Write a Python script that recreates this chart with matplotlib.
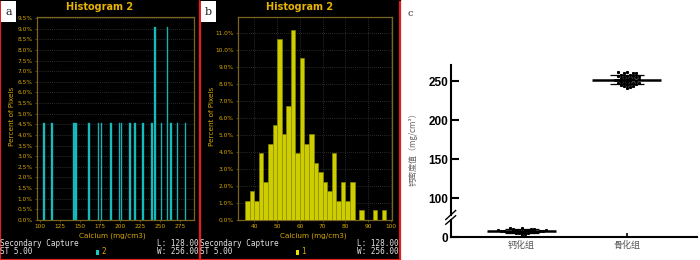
import numpy as np
import matplotlib
matplotlib.use("Agg")
import matplotlib.pyplot as plt

# ---------------- data ----------------
# panel a : histogram (Calcium mg/cm3 -> percent of pixels)
a_pos = [105, 115, 142.5, 145, 161, 173, 177, 189, 199.5, 202, 212.5, 218.5,
         228.5, 240, 244, 252, 259.5, 264, 272, 282]
a_pct = [4.55, 4.55, 4.55, 4.55, 4.55, 4.55, 4.55, 4.55, 4.55, 4.55, 4.55, 4.55,
         4.55, 4.55, 9.09, 4.55, 9.09, 4.55, 4.55, 4.55]
a_xticks = [100, 125, 150, 175, 200, 225, 250, 275]
a_yticks = [0.0, 0.5, 1.0, 1.5, 2.0, 2.5, 3.0, 3.5, 4.0, 4.5, 5.0, 5.5, 6.0,
            6.5, 7.0, 7.5, 8.0, 8.5, 9.0, 9.5]

# panel b : histogram
b_left = [36, 38, 40, 42, 44, 46, 48, 50, 52, 54, 56, 58, 60, 62, 64, 66, 68,
          70, 72, 74, 76, 78, 80, 82, 84, 86, 88, 90, 92, 94, 96]
b_pct = [1.12, 1.68, 1.12, 3.91, 2.23, 4.47, 5.59, 10.61, 5.03, 6.70, 11.17,
         3.91, 9.50, 4.47, 5.03, 3.35, 2.79, 2.23, 1.68, 3.91, 1.12, 2.23, 1.12,
         2.23, 0.0, 0.56, 0.0, 0.0, 0.56, 0.0, 0.56]
b_xticks = [40, 50, 60, 70, 80, 90, 100]
b_yticks = [0, 1, 2, 3, 4, 5, 6, 7, 8, 9, 10, 11]

# panel c : scatter with mean +/- SD
c_groups = ["钙化组", "骨化组"]
c_calc = [11.5, 11, 10.5, 10, 10, 9.5, 9, 9, 8.5, 8.5, 8, 8, 8, 7.5, 7.5, 7,
          7, 7, 6.5, 6.5, 6, 6, 5.5, 5, 4.5, 4, 3]
c_bone = [261, 261, 260, 260, 260, 258, 258, 257, 257, 257, 256, 255, 255, 254,
          254, 253, 252, 252, 251, 251, 251, 250, 250, 249, 249, 248, 248, 247,
          247, 246, 246, 245, 245, 244, 243, 242, 241]
c_high_ticks = [100, 150, 200, 250]
c_low_ticks = [0]

# ---------------- helpers ----------------
W, H = 700, 260
fig = plt.figure(figsize=(7, 2.6), dpi=100)
fig.patch.set_facecolor("white")


def fbox(l, t, r, b):
    return [l / W, 1 - b / H, (r - l) / W, (b - t) / H]


def ftxt(x, y, s, **kw):
    fig.text(x / W, 1 - y / H, s, **kw)


GOLD = "#d8a800"
SPINE = "#7a6420"
GRID = "#3a3a3a"
RED = "#e02020"


def dicom_panel(x0, label, color, legend_label):
    bg = fig.add_axes(fbox(x0, 0, x0 + 200, 260))
    bg.set_facecolor("black")
    bg.set_xticks([]); bg.set_yticks([])
    for s in ["left", "right", "bottom"]:
        bg.spines[s].set_color(RED)
        bg.spines[s].set_linewidth(1.6)
    bg.spines["top"].set_color("black")
    bg.set_zorder(0)
    fig.patches.append(plt.Rectangle(((x0 + 1) / W, 1 - 22 / H), 15 / W, 21 / H,
                                     transform=fig.transFigure, facecolor="white",
                                     edgecolor="none", zorder=5))
    ftxt(x0 + 8.5, 12, label, ha="center", va="center", fontsize=8,
         family="DejaVu Serif", color="#222222", zorder=6)
    ftxt(x0 + 100, 7, "Histogram 2", ha="center", va="center", fontsize=7,
         fontweight="bold", color="#e8b400")
    ftxt(x0 + 0, 244, "Secondary Capture", ha="left", va="center", fontsize=5.5,
         family="DejaVu Sans Mono", color="#e6e6e6")
    ftxt(x0 + 0, 252, "ST 5.00", ha="left", va="center", fontsize=5.5,
         family="DejaVu Sans Mono", color="#e6e6e6")
    ftxt(x0 + 199, 244, "L: 128.00", ha="right", va="center", fontsize=5.5,
         family="DejaVu Sans Mono", color="#e6e6e6")
    ftxt(x0 + 199, 252, "W: 256.00", ha="right", va="center", fontsize=5.5,
         family="DejaVu Sans Mono", color="#e6e6e6")
    fig.patches.append(plt.Rectangle(((x0 + 95.5) / W, 1 - 254.5 / H), 3 / W, 5 / H,
                                     transform=fig.transFigure, facecolor=color,
                                     edgecolor="none", zorder=5))
    ftxt(x0 + 101, 251.5, legend_label, ha="left", va="center", fontsize=5.5,
         family="DejaVu Sans Mono", color=GOLD)


def style_hist(ax):
    ax.set_facecolor("black")
    for s in ax.spines.values():
        s.set_color(SPINE)
        s.set_linewidth(0.9)
    ax.tick_params(colors=SPINE, labelcolor=GOLD, labelsize=4.2, length=1.5,
                   width=0.5, pad=1.5)
    ax.set_zorder(2)


# ---------------- panel a ----------------
dicom_panel(0, "a", "#19c6c6", "2")
axa = fig.add_axes(fbox(37, 17, 194, 220))
style_hist(axa)
axa.bar(a_pos, a_pct, width=2.0, color="#19c6c6", edgecolor="#0f9a9a",
        linewidth=0.3, zorder=3)
axa.set_xlim(96.25, 292.5)
axa.set_ylim(0, 9.55)
axa.set_xticks(a_xticks)
axa.set_yticks(a_yticks)
axa.set_yticklabels([f"{v:.1f}%" for v in a_yticks])
axa.set_xticks([125, 175, 225, 275], minor=True)
axa.tick_params(which="minor", length=0)
axa.grid(True, which="minor", axis="x", color=GRID, linestyle=(0, (1, 1.5)), lw=0.6)
axa.grid(True, which="major", axis="y", color=GRID, linestyle=(0, (1, 1.5)), lw=0.6)
axa.set_axisbelow(True)
ftxt(112, 235.5, "Calcium (mg/cm3)", ha="center", va="center", fontsize=5.2,
     color=GOLD)
ftxt(12, 116, "Percent of Pixels", ha="center", va="center", fontsize=5.2,
     color=GOLD, rotation=90)

# ---------------- panel b ----------------
dicom_panel(200, "b", "#e8e000", "1")
axb = fig.add_axes(fbox(238, 17, 392, 220))
style_hist(axb)
axb.bar(b_left, b_pct, width=2.0, align="edge", color="#cdcd00",
        edgecolor="#8f8f00", linewidth=0.4, zorder=3)
axb.set_xlim(32.85, 100.45)
axb.set_ylim(0, 11.92)
axb.set_xticks(b_xticks)
axb.set_yticks(b_yticks)
axb.set_yticklabels([f"{v:.1f}%" for v in b_yticks])
axb.grid(True, color=GRID, linestyle=(0, (1, 1.5)), lw=0.6)
axb.set_axisbelow(True)
ftxt(313, 235.5, "Calcium (mg/cm3)", ha="center", va="center", fontsize=5.2,
     color=GOLD)
ftxt(212, 116, "Percent of Pixels", ha="center", va="center", fontsize=5.2,
     color=GOLD, rotation=90)

# ---------------- panel c ----------------
XL = (-0.676, 1.67)
axh = fig.add_axes(fbox(450.7, 65, 697, 215))
axl = fig.add_axes(fbox(450.7, 220, 697, 237))
axh.set_ylim(78.6, 270.5)
axl.set_ylim(0, 21.7)
for ax in (axh, axl):
    ax.set_xlim(*XL)
    ax.set_facecolor("none")
    ax.spines["top"].set_visible(False)
    ax.spines["right"].set_visible(False)
    for s in ("left", "bottom"):
        ax.spines[s].set_linewidth(1.5)
        ax.spines[s].set_color("black")
    ax.tick_params(axis="y", direction="in", length=6, width=1.5, pad=2,
                   labelsize=8.5)
axh.spines["bottom"].set_visible(False)
axh.set_xticks([])
axh.set_yticks(c_high_ticks)
axl.set_yticks(c_low_ticks)
for ax, tks in ((axh, c_high_ticks), (axl, c_low_ticks)):
    ax.set_yticklabels([str(v) for v in tks], fontweight="bold",
                       family="Liberation Sans", fontsize=8.5)
axl.set_xticks([0, 1])
axl.set_xticklabels(c_groups, family=["Noto Sans CJK SC", "DejaVu Sans"],
                    fontsize=6.5, color="#555555")
axl.tick_params(axis="x", direction="in", length=3, width=1.2, pad=3)

XS, YS = 105.0, 0.782  # px per unit


def swarm(vals, d=3.0):
    vals = np.asarray(vals, float)
    placed = []
    res = np.zeros(len(vals))
    for i in np.argsort(vals):
        y = vals[i] * YS
        k = 0
        done = False
        while not done:
            offs = [0.0] if k == 0 else [k * d, -k * d]
            for off in offs:
                if all((off - px) ** 2 + (y - py) ** 2 >= d * d * 0.95 for px, py in placed):
                    placed.append((off, y))
                    res[i] = off / XS
                    done = True
                    break
            k += 1
    return res


for gi, (ax, vals) in enumerate([(axl, c_calc), (axh, c_bone)]):
    vals = np.asarray(vals, float)
    xo = swarm(vals)
    ax.plot(gi + xo, vals, linestyle="none", marker="s", markersize=1.2,
            color="black", zorder=4, clip_on=False)
    m, sd = vals.mean(), vals.std(ddof=1)
    ax.plot([gi - 0.33, gi + 0.33], [m, m], color="black", lw=1.8, zorder=5,
            solid_capstyle="butt", clip_on=False)
    ax.errorbar([gi], [m], yerr=[sd], fmt="none", ecolor="black", elinewidth=0.9,
                capsize=12, capthick=0.9, zorder=5, clip_on=False)

# break marks on the y axis
axh.plot([-0.02, 0.02], [-0.03, 0.03], transform=axh.transAxes, color="black",
         lw=1.0, clip_on=False)
axl.plot([-0.02, 0.02], [0.75, 1.25], transform=axl.transAxes, color="black",
         lw=1.0, clip_on=False)

ftxt(413, 147, "钙密度值（mg/cm³）", ha="center", va="center", fontsize=5.8,
     color="#666666", rotation=90, family=["Noto Sans CJK SC", "DejaVu Sans"])
ftxt(410, 13, "c", ha="center", va="center", fontsize=7, family="DejaVu Serif",
     color="#333333")

fig.savefig("out.png", dpi=100, facecolor="white")
